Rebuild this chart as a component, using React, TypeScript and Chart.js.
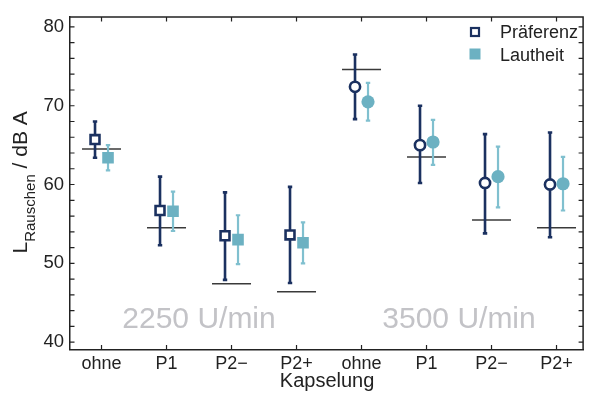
import React, { useEffect, useRef } from "react";
import { Chart, registerables } from "chart.js";

Chart.register(...registerables);

const categories = ["ohne", "P1", "P2−", "P2+", "ohne", "P1", "P2−", "P2+"];
const praeferenz = [65.7, 56.7, 53.5, 53.6, 72.4, 65.0, 60.2, 60.0];
const praeferenzLow = [63.4, 52.3, 47.9, 47.5, 68.3, 60.2, 53.8, 53.3];
const praeferenzHigh = [68.0, 61.0, 59.0, 59.7, 76.5, 70.0, 66.4, 66.6];
const lautheit = [63.4, 56.6, 53.0, 52.6, 70.5, 65.4, 61.0, 60.1];
const lautheitLow = [61.8, 54.1, 49.9, 50.0, 68.1, 62.5, 57.1, 56.7];
const lautheitHigh = [65.0, 59.1, 56.1, 55.2, 72.9, 68.2, 64.8, 63.5];
const referenz = [64.5, 54.5, 47.4, 46.4, 74.6, 63.5, 55.5, 54.5];
const yTicks = [40, 42, 44, 46, 48, 50, 52, 54, 56, 58, 60, 62, 64, 66, 68, 70, 72, 74, 76, 78, 80];
const groupLabels = ["2250 U/min", "3500 U/min"];

const NAVY = "#1b3160";
const TEAL = "#6cb1c2";
const TEAL_BAR = "#80c0cf";
const AXIS = "#222222";
const FONT = "'Liberation Sans', Arial, sans-serif";
const OFFSET = 0.1;

const overlayPlugin = {
  id: "overlay",
  beforeDatasetsDraw(chart: any) {
    const ctx = chart.ctx;
    const xs = chart.scales.x;
    const ys = chart.scales.y;
    ctx.save();
    // reference lines
    ctx.strokeStyle = "#3a3a3a";
    ctx.lineWidth = 1.5;
    referenz.forEach((v, i) => {
      const y = ys.getPixelForValue(v);
      ctx.beginPath();
      ctx.moveTo(xs.getPixelForValue(i - 0.3), y);
      ctx.lineTo(xs.getPixelForValue(i + 0.3), y);
      ctx.stroke();
    });
    const bars = (lo: number[], hi: number[], off: number, color: string, w: number) => {
      ctx.strokeStyle = color;
      ctx.lineWidth = w;
      lo.forEach((l, i) => {
        const x = xs.getPixelForValue(i + off);
        const y1 = ys.getPixelForValue(l);
        const y2 = ys.getPixelForValue(hi[i]);
        ctx.beginPath();
        ctx.moveTo(x, y1);
        ctx.lineTo(x, y2);
        ctx.stroke();
        ctx.beginPath();
        ctx.moveTo(x - 2.2, y1);
        ctx.lineTo(x + 2.2, y1);
        ctx.moveTo(x - 2.2, y2);
        ctx.lineTo(x + 2.2, y2);
        ctx.stroke();
      });
    };
    bars(lautheitLow, lautheitHigh, OFFSET, TEAL_BAR, 2.2);
    bars(praeferenzLow, praeferenzHigh, -OFFSET, NAVY, 2.6);
    ctx.restore();
  },
  afterDraw(chart: any) {
    const ctx = chart.ctx;
    const xs = chart.scales.x;
    const ys = chart.scales.y;
    const a = chart.chartArea;
    ctx.save();
    // top & right frame
    ctx.strokeStyle = AXIS;
    ctx.lineWidth = 1.5;
    ctx.beginPath();
    ctx.moveTo(a.left, a.top);
    ctx.lineTo(a.right, a.top);
    ctx.lineTo(a.right, a.bottom);
    ctx.stroke();
    // inward ticks
    ctx.lineWidth = 1.2;
    ctx.beginPath();
    yTicks.forEach((v) => {
      const y = ys.getPixelForValue(v);
      ctx.moveTo(a.left, y);
      ctx.lineTo(a.left + 4.5, y);
      ctx.moveTo(a.right, y);
      ctx.lineTo(a.right - 4.5, y);
    });
    categories.forEach((_, i) => {
      const x = xs.getPixelForValue(i);
      ctx.moveTo(x, a.bottom);
      ctx.lineTo(x, a.bottom - 4.5);
      ctx.moveTo(x, a.top);
      ctx.lineTo(x, a.top + 4.5);
    });
    ctx.stroke();

    // group annotations
    ctx.fillStyle = "#c3c3c7";
    ctx.font = `30px ${FONT}`;
    ctx.textAlign = "center";
    ctx.textBaseline = "alphabetic";
    ctx.fillText(groupLabels[0], (xs.getPixelForValue(1) + xs.getPixelForValue(2)) / 2, 328);
    ctx.fillText(groupLabels[1], (xs.getPixelForValue(5) + xs.getPixelForValue(6)) / 2, 328);

    // x title
    ctx.fillStyle = AXIS;
    ctx.font = `20px ${FONT}`;
    ctx.fillText("Kapselung", (a.left + a.right) / 2 + 0.5, 386.5);

    // y title (rotated, with subscript)
    ctx.save();
    ctx.translate(27, 253.5);
    ctx.rotate(-Math.PI / 2);
    ctx.textAlign = "left";
    ctx.font = `21px ${FONT}`;
    let px = 0;
    ctx.fillText("L", px, 0);
    px += ctx.measureText("L").width;
    ctx.font = `15px ${FONT}`;
    ctx.fillText("Rauschen", px, 8);
    px += ctx.measureText("Rauschen").width;
    ctx.font = `21px ${FONT}`;
    ctx.fillText(" / dB A", px, 0);
    ctx.restore();

    // legend
    ctx.textAlign = "left";
    ctx.textBaseline = "alphabetic";
    ctx.font = `18px ${FONT}`;
    ctx.fillStyle = AXIS;
    ctx.fillText("Präferenz", 500, 38.3);
    ctx.fillText("Lautheit", 500, 61);
    ctx.fillStyle = "#ffffff";
    ctx.strokeStyle = NAVY;
    ctx.lineWidth = 2.2;
    ctx.fillRect(471, 28, 8, 8);
    ctx.strokeRect(471, 28, 8, 8);
    ctx.fillStyle = TEAL;
    ctx.fillRect(469.5, 48.5, 11, 11);
    ctx.restore();
  },
};

export default function App() {
  const ref = useRef<HTMLCanvasElement | null>(null);
  useEffect(() => {
    if (!ref.current) return;
    const chart = new Chart(ref.current, {
      type: "scatter",
      data: {
        datasets: [
          {
            label: "Lautheit",
            data: lautheit.map((y, i) => ({ x: i + OFFSET, y })),
            pointStyle: (c: any) => (c.dataIndex < 4 ? "rect" : "circle"),
            pointRadius: (c: any) => (c.dataIndex < 4 ? 8.2 : 6.6),
            pointBackgroundColor: TEAL,
            pointBorderColor: TEAL,
            pointBorderWidth: 0,
          },
          {
            label: "Präferenz",
            data: praeferenz.map((y, i) => ({ x: i - OFFSET, y })),
            pointStyle: (c: any) => (c.dataIndex < 4 ? "rect" : "circle"),
            pointRadius: (c: any) => (c.dataIndex < 4 ? 6.3 : 5.1),
            pointBackgroundColor: "#ffffff",
            pointBorderColor: NAVY,
            pointBorderWidth: 2.6,
          },
        ],
      },
      options: {
        responsive: false,
        animation: false,
        layout: { padding: { top: 13, right: 1, left: 0, bottom: 0 } },
        plugins: { legend: { display: false }, tooltip: { enabled: false } },
        scales: {
          x: {
            type: "linear",
            min: -0.4849,
            max: 7.409,
            grid: { display: false, drawTicks: false },
            border: { display: true, color: AXIS, width: 1.5 },
            afterBuildTicks: (s: any) => {
              s.ticks = categories.map((_, i) => ({ value: i }));
            },
            afterFit: (s: any) => {
              s.height = 47.5;
            },
            ticks: {
              autoSkip: false,
              maxRotation: 0,
              padding: 4,
              color: AXIS,
              font: { family: FONT, size: 18 },
              callback: (v: any) => categories[Math.round(v)] ?? "",
            },
          },
          y: {
            type: "linear",
            min: 39.06,
            max: 81.25,
            grid: { display: false, drawTicks: false },
            border: { display: true, color: AXIS, width: 1.5 },
            afterBuildTicks: (s: any) => {
              s.ticks = yTicks.map((v) => ({ value: v }));
            },
            afterFit: (s: any) => {
              s.width = 70;
            },
            ticks: {
              autoSkip: false,
              padding: 6,
              color: AXIS,
              font: { family: FONT, size: 18.5 },
              callback: (v: any) => (Number(v) % 10 === 0 ? String(v) : ""),
            },
          },
        },
      },
      plugins: [overlayPlugin],
    } as any);
    return () => chart.destroy();
  }, []);
  return (
    <div style={{ position: "absolute", left: 0, top: 0, width: 592, height: 397, background: "#fff" }}>
      <canvas ref={ref} width={592} height={397} />
    </div>
  );
}
